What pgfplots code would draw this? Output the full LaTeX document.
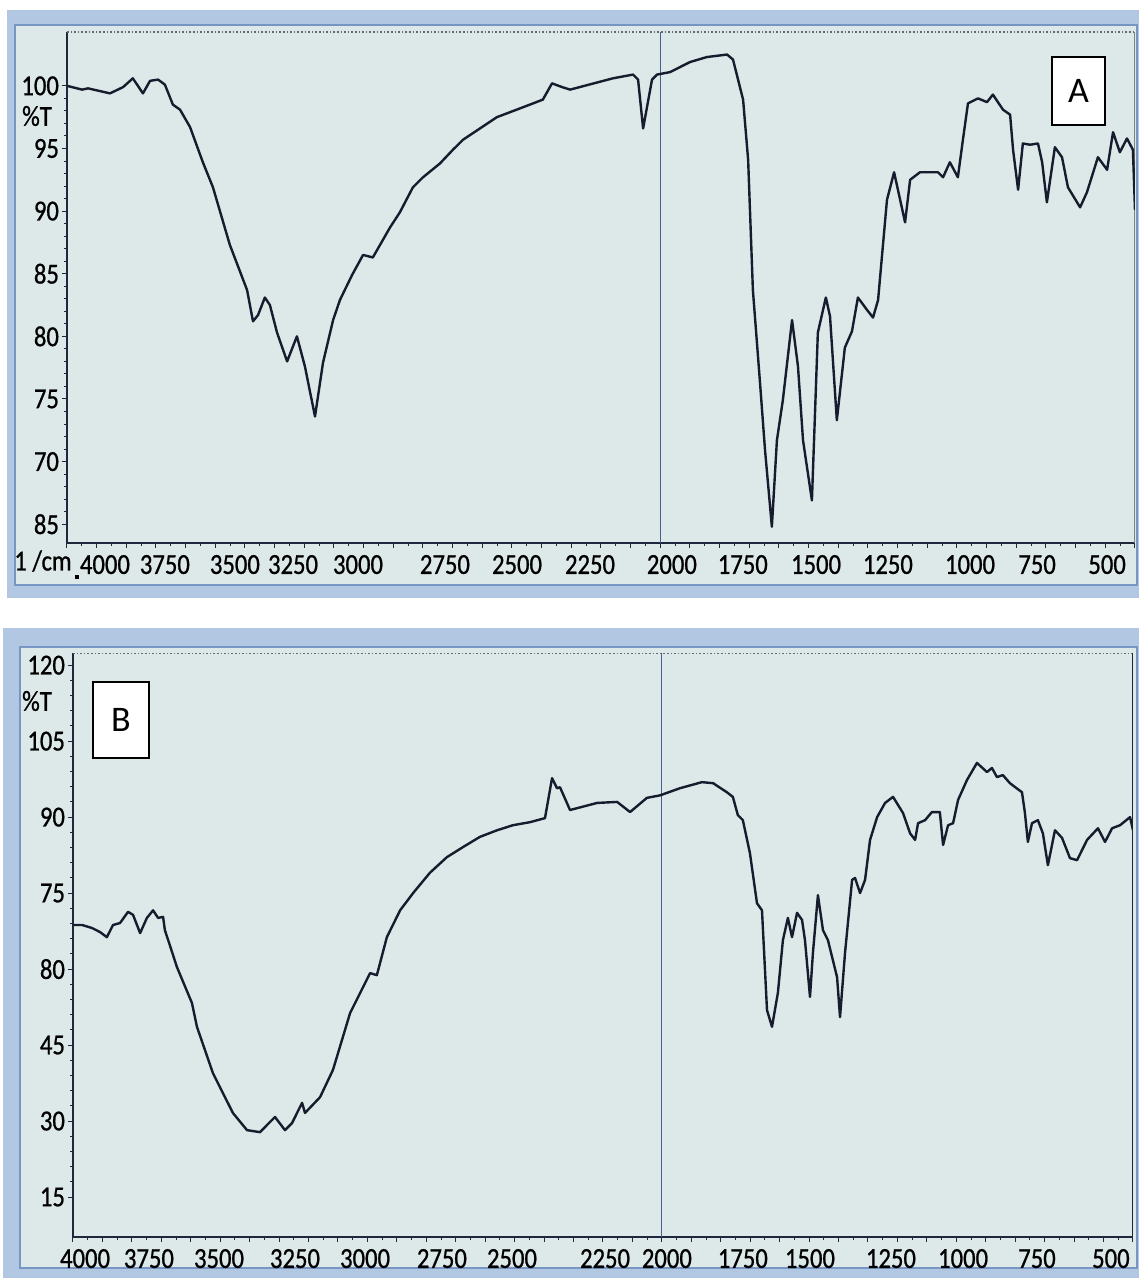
\documentclass[border=0pt]{standalone}
\usepackage{pgfplots}
\pgfplotsset{compat=1.18}
\usepackage{fontspec}
\setmainfont{Carlito}
\newfontfamily\tickfont[FakeStretch=0.85,FakeBold=0.8]{Carlito}
\definecolor{panelbg}{RGB}{221,232,232}
\definecolor{framecol}{RGB}{178,200,226}
\definecolor{frameedge}{RGB}{120,150,195}
\definecolor{curvecol}{RGB}{22,28,45}
\definecolor{axiscol}{RGB}{30,40,60}
\definecolor{vlinecol}{RGB}{70,95,140}
\pgfplotsset{irstyle/.style={
  scale only axis, x dir=reverse, xmin=400, xmax=4000,
  axis x line*=bottom, axis y line*=left,
  axis line style={draw=axiscol, line width=0.8pt},
  tick align=outside,
  xtick={400,500,...,4000}, xticklabels={}, minor x tick num=1,
  major tick length=2.5pt, minor tick length=1.5pt,
  tick style={draw=axiscol, line width=0.5pt},
  minor y tick num=4,
  extra x tick style={tick style={draw=none}},
  tick label style={font=\tickfont\fontsize{14.5}{16}\selectfont, text=black},
  yticklabel style={xshift=2pt},
}}
\begin{document}
\begin{tikzpicture}
\useasboundingbox (0,0) rectangle (569.5pt,-639pt);
\begin{scope}[x=0.5pt,y=-0.5pt]
  \fill[framecol] (7,10) rectangle (1139,598);
  \fill[panelbg] (15,25) rectangle (1137,585);
  \draw[frameedge, line width=0.6pt] (15,25) rectangle (1137,585);
  \fill[framecol] (3,628) rectangle (1139,1278);
  \fill[panelbg] (20,647) rectangle (1137,1268);
  \draw[frameedge, line width=0.6pt] (20,647) rectangle (1137,1268);
\end{scope}

% ---------------- Panel A ----------------
\begin{axis}[irstyle, at={(33.5pt,-271.5pt)}, anchor=south west,
  width=534pt, height=255.5pt,
  ymin=63.5, ymax=104.3,
  ytick={65,70,...,100}, yticklabels={85,70,75,80,85,90,95,100},
  extra x ticks={3872,3670,3434,3238,3019,2726,2483,2237,1961,1722,1475,1233,956,730,494},
  extra x tick labels={4000,3750,3500,3250,3000,2750,2500,2250,2000,1750,1500,1250,1000,750,500},
]
\draw[axiscol!70, densely dotted, line width=0.8pt] (rel axis cs:0,1) -- (rel axis cs:1,1);
\draw[gray, line width=0.6pt] (rel axis cs:1,0) -- (rel axis cs:1,1);
\draw[vlinecol, line width=0.6pt] (axis cs:2000,63.5) -- (axis cs:2000,104.3);
\addplot[curvecol, line width=1.2pt, line join=round, mark=none] coordinates {
(4000,100.0) (3949,99.7) (3929,99.8) (3855,99.4) (3811,99.9) (3778,100.6)
(3744,99.4) (3720,100.4) (3693,100.5) (3670,100.1) (3643,98.5) (3619,98.1)
(3585,96.7) (3542,93.9) (3508,91.9) (3451,87.3) (3393,83.7) (3373,81.2)
(3356,81.7) (3333,83.1) (3316,82.5) (3292,80.3) (3258,78.0) (3225,80.0)
(3198,77.6) (3164,73.6) (3137,77.9) (3103,81.3) (3080,82.9) (3039,84.9)
(3002,86.5) (2969,86.3) (2911,88.7) (2878,89.9) (2834,91.9) (2800,92.7)
(2743,93.8) (2699,94.9) (2665,95.7) (2608,96.6) (2551,97.5) (2473,98.2)
(2396,98.9) (2365,100.2) (2331,99.9) (2304,99.7) (2160,100.6)
(2092,100.9) (2075,100.5) (2058,96.6) (2028,100.5) (2011,100.9) (1967,101.1)
(1900,101.9) (1843,102.3) (1775,102.5) (1755,102.1) (1721,98.9) (1704,94.1)
(1688,83.7) (1664,76.3) (1647,70.9) (1624,64.8) (1607,71.7) (1587,74.9)
(1556,81.3) (1536,77.6) (1519,71.7) (1489,66.9) (1469,80.3) (1442,83.1)
(1428,81.6) (1405,73.3) (1378,79.1) (1354,80.4) (1334,83.1) (1303,82.1)
(1283,81.5) (1266,82.9) (1236,90.9) (1212,93.1) (1175,89.1) (1158,92.5)
(1125,93.1) (1064,93.1) (1047,92.7) (1024,93.9) (997,92.7) (980,95.7)
(963,98.6) (929,99.0) (899,98.7) (879,99.3) (845,98.1) (821,97.7)
(811,94.9) (794,91.7) (778,95.4) (754,95.3) (727,95.4) (713,93.9)
(697,90.7) (670,95.1) (646,94.3) (626,91.9) (585,90.3) (562,91.5)
(525,94.3) (494,93.3) (474,96.3) (451,94.7) (427,95.8) (407,94.9) (400,90.1)
};
\end{axis}

% ---------------- Panel B ----------------
\begin{axis}[irstyle, at={(36.5pt,-618.5pt)}, anchor=south west,
  width=530pt, height=292pt,
  ymin=7.1, ymax=122.4,
  ytick={15,30,...,120}, yticklabels={15,30,45,80,75,90,105,120},
  extra x ticks={3959,3742,3504,3246,3008,2747,2509,2193,1983,1725,1497,1222,977,726,475},
  extra x tick labels={4000,3750,3500,3250,3000,2750,2500,2250,2000,1750,1500,1250,1000,750,500},
]
\draw[axiscol!70, densely dotted, line width=0.8pt] (rel axis cs:0,1) -- (rel axis cs:1,1);
\draw[axiscol, line width=0.8pt] (rel axis cs:1,0) -- (rel axis cs:1,1);
\draw[vlinecol, line width=0.6pt] (axis cs:2000,7.1) -- (axis cs:2000,122.4);
\addplot[curvecol, line width=1.2pt, line join=round, mark=none] coordinates {
(4000,68.7) (3969,68.7) (3935,68.1) (3908,67.3) (3885,66.3) (3864,68.7)
(3840,69.1) (3813,71.3) (3796,70.7) (3772,67.1) (3749,70.1) (3728,71.6)
(3711,70.1) (3694,70.3) (3688,67.7) (3671,64.7) (3647,60.4) (3596,53.3)
(3579,48.6) (3525,39.5) (3457,31.6) (3409,28.2) (3365,27.8) (3314,30.8)
(3280,28.2) (3256,29.6) (3222,33.6) (3212,31.6) (3161,34.7) (3117,40.1)
(3059,51.3) (2991,59.2) (2968,58.8) (2934,66.3) (2889,71.6) (2845,75.0)
(2788,79.0) (2730,82.1) (2675,84.1) (2618,86.1) (2560,87.4) (2506,88.4)
(2448,89.0) (2397,89.8) (2373,97.7) (2356,95.7) (2346,95.9)
(2312,91.4) (2220,92.8) (2152,93.0) (2108,91.0) (2051,93.8) (2006,94.3)
(1939,95.7) (1864,96.9) (1826,96.7) (1779,94.9) (1759,94.0) (1742,90.4)
(1725,89.4) (1701,82.9) (1677,73.0) (1660,71.6) (1643,51.9) (1626,48.6)
(1606,55.3) (1589,65.7) (1572,70.1) (1558,66.3) (1541,71.1) (1524,69.7)
(1514,65.7) (1497,54.5) (1487,63.2) (1470,74.6) (1453,67.7) (1436,65.7)
(1405,58.4) (1395,50.5) (1378,63.2) (1354,77.6) (1344,78.0) (1327,75.0)
(1310,77.6) (1293,85.5) (1269,90.0) (1242,92.8) (1215,94.0) (1181,90.8)
(1157,86.8) (1140,85.5) (1130,88.8) (1106,89.4) (1083,91.0) (1056,91.0)
(1045,84.5) (1028,88.4) (1011,88.8) (994,93.4) (964,97.3) (930,100.7)
(896,98.9) (879,99.7) (862,97.9) (842,98.3) (818,96.7) (777,94.9)
(767,90.8) (757,85.1) (743,88.8) (723,89.4) (706,86.8) (689,80.5)
(665,87.4) (641,85.9) (614,81.9) (590,81.5) (556,85.5) (519,87.8)
(495,85.1) (471,87.8) (444,88.4) (410,90.0) (400,87.4)
};
\end{axis}

\begin{scope}[x=0.5pt,y=-0.5pt]
  \node[font=\tickfont\fontsize{14.5}{16}\selectfont] at (37,116) {\%T};
  \node[font=\tickfont\fontsize{14.5}{16}\selectfont] at (37,701) {\%T};
  \node[font=\tickfont\fontsize{14.5}{16}\selectfont] at (43,561) {1 /cm};
  \fill[black] (75,575) rectangle (79,579);
  \draw[black, line width=0.8pt, fill=white] (1052,57) rectangle (1105,125);
  \node[font=\fontsize{18}{20}\selectfont] at (1078.5,91) {A};
  \draw[black, line width=0.8pt, fill=white] (93,682) rectangle (149,758);
  \node[font=\fontsize{18}{20}\selectfont] at (121,720) {B};
\end{scope}
\end{tikzpicture}
\end{document}
